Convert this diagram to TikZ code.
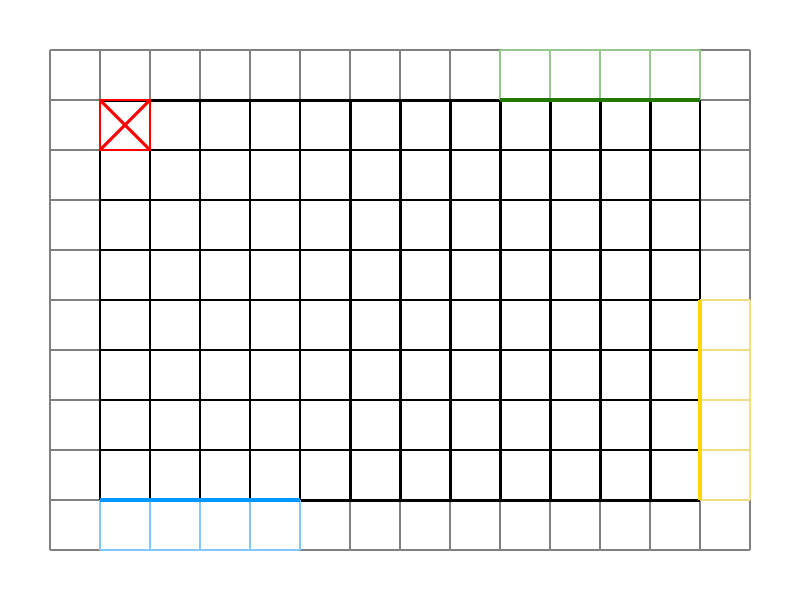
\documentclass[tikz,border=0pt]{standalone}
\usepackage{tikz}
\definecolor{padgreen}{RGB}{34,120,0}
\definecolor{padgreenlt}{RGB}{150,200,140}
\definecolor{padblue}{RGB}{0,150,255}
\definecolor{padbluelt}{RGB}{130,200,255}
\definecolor{padyellow}{RGB}{255,215,0}
\definecolor{padyellowlt}{RGB}{240,222,130}
\begin{document}
\begin{tikzpicture}[
    outer/.style={draw=black!50, line width=1.4pt},
    inner/.style={draw=black, line width=1.7pt},
    halo/.style={line width=1.4pt},
    edge/.style={line width=2.4pt},
    kernel/.style={draw=red, line width=1.7pt},
]
  \useasboundingbox (0,0) rectangle (16,12);

  % Padded input (outer ring)
  \draw[outer] (1,1) grid (15,11);

  % Original input
  \draw[inner] (2,2) grid (14,10);

  % Padding cells copied from the borders
  \draw[halo, padgreenlt] (10,10) grid (14,11);
  \draw[halo, padbluelt] (2,1) grid (6,2);
  \draw[halo, padyellowlt] (14,2) grid (15,6);

  % Border segments that are copied
  \draw[edge, padgreen] (10,10) -- (14,10);
  \draw[edge, padblue] (2,2) -- (6,2);
  \draw[edge, padyellow] (14,2) -- (14,6);

  % Current cell
  \draw[kernel] (2,9) rectangle (3,10);
  \draw[kernel] (2,9) -- (3,10);
  \draw[kernel] (2,10) -- (3,9);

\end{tikzpicture}
\end{document}
